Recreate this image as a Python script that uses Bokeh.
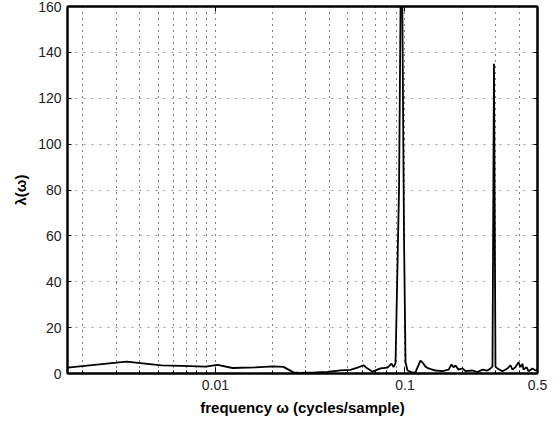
from bokeh.plotting import figure
from bokeh.models import Range1d, FixedTicker, LogAxis, LinearAxis, CustomJSTickFormatter
from bokeh.embed import file_html
from bokeh.resources import INLINE

# ---- data ----
freq = [0.00166, 0.003398, 0.005198, 0.007391, 0.008867, 0.010261, 0.012315, 0.01628,
        0.02026, 0.02287, 0.02583, 0.02812, 0.03374, 0.03903, 0.04571, 0.05161, 0.05620,
        0.06043, 0.06267, 0.06742, 0.07428, 0.08088, 0.08492, 0.08700, 0.08915,
        0.09302, 0.09587, 0.09883, 0.10065, 0.10311, 0.10956, 0.11362, 0.12072, 0.12370,
        0.12829, 0.13305, 0.14488, 0.15771, 0.16972, 0.17601, 0.18030, 0.18473, 0.19156,
        0.20109, 0.20857, 0.22714, 0.24129, 0.25634, 0.27234, 0.28244, 0.28942, 0.29474,
        0.30015, 0.30750, 0.32677, 0.34725, 0.36013, 0.36902, 0.38282, 0.39700, 0.40673,
        0.41677, 0.42188, 0.43752, 0.44823, 0.47064, 0.48815, 0.5]
power = [2.6, 5.2, 3.5, 3.2, 3.0, 3.8, 2.4, 2.7,
         3.1, 2.9, 0.5, 0.3, 0.5, 0.7, 1.4, 1.6, 2.6,
         3.6, 2.5, 0.8, 2.2, 2.6, 4.3, 2.8, 4.5,
         80.0, 210.0, 60.0, 5.0, 1.3, 0.4, 0.6, 5.6, 4.8,
         3.0, 2.2, 1.3, 1.0, 1.7, 3.9, 2.7, 3.5, 1.7,
         2.2, 1.0, 1.3, 0.6, 1.7, 1.3, 2.2, 3.0, 135.0,
         3.0, 2.2, 1.0, 2.2, 3.5, 1.7, 2.8, 4.9, 2.8,
         4.2, 1.7, 2.8, 1.0, 2.2, 1.3, 1.7]

x_major_ticks = [0.01, 0.1, 0.5]
x_minor_ticks = [0.002, 0.003, 0.004, 0.005, 0.006, 0.007, 0.008, 0.009,
                 0.02, 0.03, 0.04, 0.05, 0.06, 0.07, 0.08, 0.09,
                 0.2, 0.3, 0.4]
y_ticks = [0, 20, 40, 60, 80, 100, 120, 140, 160]
x_limits = (0.00166, 0.5)
y_limits = (0, 160)

FONT = "Liberation Sans"

p = figure(width=550, height=420, x_axis_type="log",
           x_range=Range1d(*x_limits), y_range=Range1d(*y_limits),
           output_backend="svg", toolbar_location=None,
           min_border_left=67, min_border_right=13,
           min_border_top=6, min_border_bottom=47)

p.outline_line_color = "black"
p.outline_line_width = 2
p.background_fill_color = "white"
p.border_fill_color = "white"

xticker = FixedTicker(ticks=x_major_ticks, minor_ticks=x_minor_ticks)
yticker = FixedTicker(ticks=y_ticks)
fmt = CustomJSTickFormatter(code="return tick.toString();")

# bottom axis
xa = p.xaxis[0]
xa.ticker = xticker
xa.formatter = fmt
xa.axis_label = "frequency \u03c9 (cycles/sample)"
# left axis
ya = p.yaxis[0]
ya.ticker = yticker
ya.axis_label = "\u03bb(\u03c9)"

for ax in (xa, ya):
    ax.axis_line_color = "black"
    ax.axis_line_width = 2
    ax.major_tick_line_color = "black"
    ax.major_tick_line_width = 1
    ax.major_tick_out = 0
    ax.minor_tick_out = 0
    ax.major_label_text_font = FONT
    ax.major_label_text_font_size = "14px"
    ax.major_label_text_color = "#222222"
    ax.axis_label_text_font = FONT
    ax.axis_label_text_font_size = "15px"
    ax.axis_label_text_font_style = "bold"
    ax.axis_label_text_color = "black"
    ax.major_label_standoff = 6

xa.major_tick_in = 6
xa.minor_tick_in = 3
xa.minor_tick_line_color = "black"
xa.axis_label_standoff = 6
ya.major_tick_in = 4
ya.minor_tick_line_color = None
ya.axis_label_standoff = 6

# mirrored ticks on top and right (no labels)
top = LogAxis(ticker=xticker, formatter=fmt)
right = LinearAxis(ticker=yticker)
for ax in (top, right):
    ax.axis_line_color = "black"
    ax.axis_line_width = 2
    ax.major_tick_out = 0
    ax.minor_tick_out = 0
    ax.minor_tick_in = 0
    ax.minor_tick_line_color = None
    ax.major_label_text_font_size = "0px"
    ax.major_label_text_color = None
    ax.major_label_standoff = 0
top.major_tick_in = 5
right.major_tick_in = 4
p.add_layout(top, "above")
p.add_layout(right, "right")

# grids
p.xgrid.ticker = xticker
p.xgrid.grid_line_color = "black"
p.xgrid.grid_line_dash = "1 5"
p.xgrid.grid_line_width = 1
p.xgrid.minor_grid_line_color = "black"
p.xgrid.minor_grid_line_dash = "1 5"
p.xgrid.minor_grid_line_width = 1
p.ygrid.ticker = yticker
p.ygrid.grid_line_color = "#999999"
p.ygrid.grid_line_dash = "2 6"
p.ygrid.grid_line_width = 1

p.line(freq, power, line_color="black", line_width=1.8)

open("out.html", "w").write(file_html(p, INLINE))
